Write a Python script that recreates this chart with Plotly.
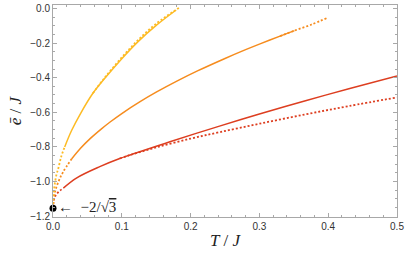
import plotly.graph_objects as go

# ---- data ----
# red pair
red_T_solid = [0.015, 0.034, 0.068, 0.097, 0.112, 0.17, 0.242, 0.3, 0.367, 0.43, 0.5]
red_e_solid = [-1.038, -0.98, -0.914, -0.867, -0.847, -0.770, -0.680, -0.61, -0.533, -0.464, -0.39]
red_T_dot_low = [0.0, 0.001, 0.003, 0.008, 0.015]
red_e_dot_low = [-1.155, -1.11, -1.086, -1.06, -1.038]
red_T_dot_high = [0.097, 0.112, 0.15, 0.2, 0.242, 0.3, 0.367, 0.43, 0.5]
red_e_dot_high = [-0.867, -0.847, -0.803, -0.752, -0.715, -0.666, -0.612, -0.564, -0.514]

# orange pair
orange_T_solid = [0.027, 0.04, 0.054, 0.07, 0.083, 0.1, 0.126, 0.15, 0.18, 0.21, 0.25, 0.28, 0.3, 0.33, 0.351]
orange_e_solid = [-0.870, -0.808, -0.752, -0.697, -0.656, -0.607, -0.54, -0.484, -0.42, -0.361, -0.289, -0.238,
                  -0.206, -0.16, -0.128]
orange_T_dot_low = [0.0, 0.002, 0.005, 0.01, 0.015, 0.027]
orange_e_dot_low = [-1.155, -1.078, -1.032, -0.982, -0.943, -0.870]
orange_T_dot_high = [0.33, 0.351, 0.375, 0.4]
orange_e_dot_high = [-0.16, -0.128, -0.094, -0.052]

# yellow pair
yellow_T_solid = [0.017, 0.027, 0.04, 0.058, 0.075, 0.1, 0.124, 0.15, 0.179]
yellow_e_solid = [-0.80, -0.705, -0.607, -0.49, -0.405, -0.29, -0.19, -0.098, -0.009]
yellow_T_dot_low = [0.0, 0.0005, 0.002, 0.005, 0.0077, 0.012, 0.017]
yellow_e_dot_low = [-1.155, -1.09, -1.03, -0.961, -0.925, -0.855, -0.80]
yellow_T_dot_high = [0.058, 0.075, 0.1, 0.124, 0.15, 0.184]
yellow_e_dot_high = [-0.49, -0.401, -0.283, -0.181, -0.088, 0.006]

ground_T = [0.0]
ground_e = [-1.1547]

x_ticks = [0.0, 0.1, 0.2, 0.3, 0.4, 0.5]
y_ticks = [0.0, -0.2, -0.4, -0.6, -0.8, -1.0, -1.2]

RED = "rgb(221,62,32)"
ORANGE = "rgb(246,140,30)"
YELLOW = "rgb(253,187,35)"

fig = go.Figure()

def add(T, e, color, dotted):
    fig.add_trace(go.Scatter(
        x=T, y=e, mode="lines", line_shape="spline",
        line=dict(color=color, width=1.8 if dotted else 1.5,
                  dash="2px,2px" if dotted else "solid"),
        showlegend=False, hoverinfo="skip"))

add(red_T_dot_low, red_e_dot_low, RED, True)
add(red_T_dot_high, red_e_dot_high, RED, True)
add(orange_T_dot_low, orange_e_dot_low, ORANGE, True)
add(orange_T_dot_high, orange_e_dot_high, ORANGE, True)
add(yellow_T_dot_low, yellow_e_dot_low, YELLOW, True)
add(yellow_T_dot_high, yellow_e_dot_high, YELLOW, True)
add(red_T_solid, red_e_solid, RED, False)
add(orange_T_solid, orange_e_solid, ORANGE, False)
add(yellow_T_solid, yellow_e_solid, YELLOW, False)

fig.add_trace(go.Scatter(x=ground_T, y=ground_e, mode="markers",
                         marker=dict(color="black", size=7), cliponaxis=False,
                         showlegend=False, hoverinfo="skip"))

fig.add_annotation(x=ground_T[0], y=ground_e[0], xref="x", yref="y",
                   text="←  −2/√<span style=\"text-decoration:overline\">3</span>",
                   showarrow=False, xanchor="left", yanchor="middle", xshift=3, yshift=1,
                   font=dict(family="Liberation Serif", size=15, color="#222"))

axis_common = dict(showline=True, linecolor="#a8a8a8", linewidth=1, mirror="allticks",
                   ticks="inside", ticklen=4, tickcolor="#a8a8a8", tickwidth=1,
                   showgrid=False, zeroline=False,
                   tickfont=dict(family="Liberation Sans", size=10, color="#333"))

fig.update_xaxes(range=[0, 0.5], tickvals=x_ticks, tickformat=".1f",
                 ticklabeloverflow="allow",
                 minor=dict(dtick=0.02, ticks="inside", ticklen=2, tickcolor="#a8a8a8"),
                 title=dict(text="<i>T</i> / <i>J</i>", standoff=3,
                            font=dict(family="Liberation Serif", size=17, color="#222")),
                 **axis_common)
fig.update_yaxes(range=[-1.205, 0.02], tickvals=y_ticks, tickformat=".1f",
                 minor=dict(dtick=0.05, tick0=0, ticks="inside", ticklen=2, tickcolor="#a8a8a8"),
                 title=dict(text="<i>ē</i> / <i>J</i>", standoff=4,
                            font=dict(family="Liberation Serif", size=17, color="#222")),
                 **axis_common)

fig.update_layout(width=407, height=261, margin=dict(l=53, r=9, t=3, b=44),
                  plot_bgcolor="white", paper_bgcolor="white")

fig.write_html("out.html", config={"displayModeBar": False},
               post_script="document.body.style.margin='0';document.body.style.padding='0';")
